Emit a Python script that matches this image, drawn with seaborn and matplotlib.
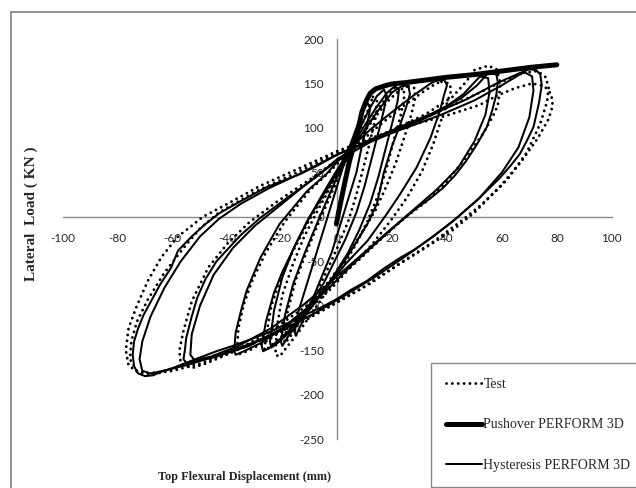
import matplotlib
matplotlib.use("Agg")
import matplotlib.pyplot as plt
import seaborn as sns
from matplotlib.lines import Line2D
from matplotlib.patches import Rectangle

# ---------------- data ----------------
x_ticks = [-100, -80, -60, -40, -20, 0, 20, 40, 60, 80, 100]
y_ticks = [-250, -200, -150, -100, -50, 0, 50, 100, 150, 200]

push_x = [-0.3, 0.5, 1.5, 3, 4.5, 6, 7.5, 9, 10.5, 12, 14, 16, 18, 20, 25, 30, 40, 50, 60, 70, 80]
push_y = [-8, 5, 20, 42, 63, 80, 97, 118, 130, 139, 144, 146, 148, 149.5, 151, 153, 157, 160, 164, 168, 171]

hyst0_x = [11, 12, 11, 9, 7, 4, 1, -2, -6, -10, -13, -15, -15.5, -14, -11, -8, -5, -2, 1, 4, 7, 9.5, 11]
hyst0_y = [128, 122, 105, 80, 50, 20, -10, -40, -70, -100, -120, -133, -130, -105, -75, -45, -15, 15, 45, 75, 100, 120, 128]

hyst1_x = [17, 18, 17, 15, 12.5, 10, 7, 3, -1, -5, -10, -14, -18, -20, -20.5, -19, -16, -12, -8, -4, 0, 4, 8, 11.5, 14.5, 17]
hyst1_y = [143, 137, 120, 95, 65, 35, 5, -25, -50, -75, -98, -118, -135, -145, -140, -110, -75, -42, -12, 17, 45, 72, 98, 120, 136, 143]

hyst2_x = [21, 22.5, 22, 20, 17.5, 15, 12, 8, 4, -1, -6, -11, -16, -21, -24, -24.5, -23, -20, -16, -11, -6, -1, 4, 9, 14, 18, 21]
hyst2_y = [147, 143, 130, 105, 75, 45, 15, -15, -40, -65, -88, -108, -126, -140, -147, -140, -105, -68, -36, -5, 22, 48, 73, 98, 122, 139, 147]

hyst3_x = [24, 26, 26.5, 25, 22.5, 20, 17, 14.5, 11, 7, 3, -2, -8, -14, -20, -25, -27, -27.5, -26, -23, -20, -15, -10, -5, 0, 5, 10, 15, 20, 24]
hyst3_y = [148, 146, 138, 122, 100, 80, 50, 15, -8, -28, -48, -70, -95, -117, -135, -148, -151, -145, -118, -85, -62, -30, 0, 25, 50, 75, 98, 120, 140, 148]

hyst4_x = [36, 39, 40, 39, 37.5, 34, 29, 23, 18, 11, 3, -4, -10, -18, -28, -34, -37, -37.5, -37, -35, -33, -28, -21, -11, -4, 0, 5, 12, 20, 28, 34, 36]
hyst4_y = [153, 154, 148, 138, 120, 89, 56, 26, 3, -27, -53, -80, -100, -122, -142, -151, -155, -150, -130, -105, -83, -46, -8, 29, 48, 62, 78, 98, 118, 137, 150, 153]

hyst5_x = [55, 58, 58.5, 58, 56.5, 54.5, 51, 47, 43, 38.7, 34, 29, 22, 14, 5, -3, -10, -20, -32, -45, -52, -55, -56, -55.5, -55, -53, -51, -48, -44, -35, -28, -18, -8, 0, 10, 22, 35, 45, 51, 55]
hyst5_y = [162, 160, 152, 138, 120, 101, 82, 63, 47, 33, 21, 10, -8, -30, -55, -80, -100, -125, -145, -158, -163, -164, -160, -150, -136, -112, -91, -70, -50, -20, -1, 22, 44, 65, 84, 100, 117, 133, 148, 162]

hyst5b_x = [52, 55, 55.5, 54, 50, 44, 36, 27, 18, 8, -2, -12, -24, -36, -46, -52, -53.5, -53, -50, -45, -38, -30, -20, -10, 0, 12, 25, 37, 46, 52]
hyst5b_y = [158, 156, 140, 115, 85, 55, 30, 6, -18, -45, -72, -98, -125, -145, -157, -161, -155, -132, -100, -65, -35, -10, 15, 40, 63, 84, 101, 118, 138, 158]

hyst6_x = [70, 72.5, 74, 74.5, 73.5, 71.5, 69, 66.6, 63, 59.3, 55, 50.8, 46.5, 42.3, 37.5, 32.6, 28, 22.9, 17, 10.8, 5, 0, -6, -13, -19, -25, -31, -38, -44, -50, -55, -60, -64, -67, -70, -72.5, -74, -74.5, -74, -72.5, -70.5, -67.5, -64.5, -60.5, -58, -53, -48, -43, -35, -26, -19.5, -13.6, -7, 0, 6, 13, 23, 35, 47, 58, 66, 70]
hyst6_y = [166, 165, 160, 148, 128, 101, 85, 71, 57, 44, 31, 18, 7, -4.5, -16, -27, -37, -46, -58, -72, -82, -92, -102, -112, -121, -130, -137, -145, -151, -158, -164, -170, -174, -178, -179, -176, -168, -155, -140, -125, -110, -93, -76, -57, -38, -22, -8, 4, 18, 33, 41, 48, 58, 70, 78, 87, 100, 116, 132, 150, 161, 166]

hyst6b_x = [68, 71, 71.5, 70, 66, 60, 52, 44, 35, 25, 14, 3, -8, -20, -32, -44, -54, -62, -68, -71, -72, -71, -68, -63, -57, -50, -43, -35, -25, -14, 0, 12, 25, 38, 50, 60, 68]
hyst6b_y = [163, 158, 142, 112, 78, 50, 22, 0, -22, -44, -67, -88, -108, -127, -143, -156, -166, -172, -176, -173, -160, -140, -112, -80, -50, -22, -2, 15, 32, 48, 70, 86, 100, 115, 131, 148, 163]

test0_x = [13, 14.5, 14, 12, 9.5, 7, 4, 0, -4, -8, -12, -16, -19, -19.5, -18, -15, -11, -7, -3, 1, 5, 8.5, 11.5, 13]
test0_y = [135, 130, 112, 85, 55, 25, -5, -35, -62, -88, -110, -130, -142, -136, -105, -70, -38, -8, 20, 48, 76, 100, 122, 135]

test1_x = [22, 24, 24.5, 23, 20.5, 18, 15, 11, 7, 2, -3, -8, -13, -18, -21, -22.5, -22, -20, -16, -12, -7, -2, 3, 8, 13, 18, 22]
test1_y = [149, 147, 136, 112, 85, 55, 25, -5, -30, -56, -80, -103, -125, -145, -157, -155, -125, -88, -52, -22, 8, 36, 62, 88, 112, 135, 149]

test2_x = [26, 28, 28.5, 27, 24.5, 21.5, 18, 14, 9, 4, -2, -8, -14, -20, -25, -26.5, -26, -24, -20.5, -16, -11, -6, -1, 4, 9, 14, 19, 23, 26]
test2_y = [147, 145, 135, 115, 90, 62, 35, 8, -18, -42, -68, -92, -115, -134, -147, -150, -135, -100, -68, -38, -8, 18, 43, 68, 92, 113, 132, 143, 147]

test3_x = [38, 41, 41.5, 40, 38, 35, 31, 25.5, 20, 13, 5, -2, -9, -17, -26, -32, -35.5, -36.5, -36, -34, -31, -26, -19, -10, -3, 2, 8, 15, 23, 31, 36, 38]
test3_y = [152, 150, 142, 128, 110, 82, 52, 22, -2, -30, -56, -80, -100, -122, -140, -150, -154, -149, -125, -98, -72, -40, -5, 30, 50, 66, 83, 102, 122, 140, 150, 152]

test4_x = [50, 55, 58, 59.5, 58.5, 56.5, 53, 47, 40, 32, 25, 17, 8, -2, -12, -25, -38, -48, -53, -57, -57.5, -56, -53, -47, -40, -32, -22, -10, 0, 10, 20, 32, 42, 47, 50]
test4_y = [165, 170, 166, 150, 125, 112, 93, 67, 40, 16, 0, -22, -48, -75, -102, -130, -152, -165, -170, -165, -150, -128, -95, -57, -30, -6, 17, 42, 64, 82, 98, 115, 135, 152, 165]

test5_x = [68, 73, 76, 77, 76.5, 74, 69, 62, 53, 45, 35, 24, 12, 0, -12, -25, -40, -55, -65, -72, -76, -77, -76, -73, -69, -64, -58, -53, -49, -41, -28, -15, 0, 12, 25, 38, 50, 60, 68]
test5_y = [162, 164, 157, 145, 130, 105, 72, 42, 15, -5, -28, -50, -75, -96, -117, -135, -152, -166, -175, -176, -167, -150, -125, -100, -72, -45, -22, -10, 0, 13, 35, 53, 74, 88, 103, 120, 137, 152, 162]

test5b_x = [58, 65, 71, 75.5, 78, 78.5, 77, 73, 67, 59, 50, 42, 32, 20, 8, -5, -20, -35, -50, -60, -68, -73, -75.5, -75, -73, -69, -63, -56, -50, -43, -30, -16, 0, 15, 28, 40, 52, 58]
test5b_y = [136, 145, 150, 147, 138, 125, 110, 88, 62, 33, 5, -15, -35, -58, -82, -104, -128, -148, -165, -173, -177, -173, -160, -140, -118, -93, -63, -35, -13, 5, 28, 48, 72, 91, 104, 114, 126, 136]

legend_labels = ["Test", "Pushover PERFORM 3D", "Hysteresis PERFORM 3D"]

# ---------------- styling ----------------
sns.set_style("white")
plt.rcParams["font.family"] = ["Lato", "DejaVu Sans"]
plt.rcParams["axes.unicode_minus"] = False

W, H = 636, 488
fig = plt.figure(figsize=(W / 100, H / 100), dpi=100)
fig.patch.set_facecolor("white")

# outer chart border (left and top visible, the rest runs off the image)
fig.add_artist(Rectangle((11 / W, -0.2), 1.5, 1.2 - 12 / H, transform=fig.transFigure,
                         fill=False, edgecolor="#8a8a8a", linewidth=1.3))

ax = fig.add_axes([62.7 / W, 1 - 439.3 / H, 549 / W, 400.3 / H])
ax.set_facecolor("none")
ax.set_xlim(-100, 100)
ax.set_ylim(-250, 200)

DOT = dict(linestyle=(0, (0.01, 2.0)), dash_capstyle="round", linewidth=2.1)
SOLID = dict(linestyle="-", linewidth=1.45)

def draw(xs, ys, style, z):
    sns.lineplot(x=xs, y=ys, sort=False, estimator=None, ax=ax, legend=False,
                 color="black", zorder=z, **style)

test_loops = [(test0_x, test0_y), (test1_x, test1_y), (test2_x, test2_y), (test3_x, test3_y),
              (test4_x, test4_y), (test5_x, test5_y), (test5b_x, test5b_y)]
hyst_loops = [(hyst0_x, hyst0_y), (hyst1_x, hyst1_y), (hyst2_x, hyst2_y), (hyst3_x, hyst3_y),
              (hyst4_x, hyst4_y), (hyst5_x, hyst5_y), (hyst5b_x, hyst5b_y),
              (hyst6_x, hyst6_y), (hyst6b_x, hyst6b_y)]

for xs, ys in test_loops:
    draw(xs, ys, DOT, 3)
for xs, ys in hyst_loops:
    draw(xs, ys, SOLID, 3.2)
sns.lineplot(x=push_x, y=push_y, sort=False, estimator=None, ax=ax, legend=False,
             color="black", linewidth=3.6, solid_capstyle="round", zorder=4)

# axes crossing at the origin
for side in ["top", "right"]:
    ax.spines[side].set_visible(False)
ax.spines["left"].set_position(("data", 0))
ax.spines["bottom"].set_position(("data", 0))
for side in ["left", "bottom"]:
    ax.spines[side].set_color("#8a8a8a")
    ax.spines[side].set_linewidth(1.0)
    ax.spines[side].set_zorder(2)

ax.set_xticks(x_ticks)
ax.set_yticks(y_ticks)
ax.set_xticklabels([str(v) for v in x_ticks])
ax.set_yticklabels([str(v) for v in y_ticks])
ax.tick_params(axis="x", direction="out", length=4, width=1, color="#8a8a8a",
               labelsize=8.5, pad=7.5, labelcolor="#262626")
ax.tick_params(axis="y", direction="out", length=4, width=1, color="#8a8a8a",
               labelsize=8.5, pad=5.5, labelcolor="#262626")
ax.set_xlabel("")
ax.set_ylabel("")
ax.grid(False)

# axis titles
fig.text(31 / W, 1 - 214 / H, "Lateral  Load ( KN )", rotation=90, ha="center", va="center",
         family=["Liberation Serif", "DejaVu Serif"], fontweight="bold", fontsize=11)
fig.text(244 / W, 1 - 477 / H, "Top Flexural Displacement (mm)", ha="center", va="center",
         family=["Liberation Serif", "DejaVu Serif"], fontweight="bold", fontsize=8.8)

# legend
handles = [Line2D([], [], color="black", **DOT),
           Line2D([], [], color="black", linewidth=3.6, solid_capstyle="round"),
           Line2D([], [], color="black", **SOLID)]
leg = fig.legend(handles, legend_labels, loc="upper left",
                 bbox_to_anchor=(431 / W, 1 - 363 / H), bbox_transform=fig.transFigure,
                 frameon=True, fancybox=False, edgecolor="#8a8a8a", framealpha=1,
                 prop={"family": "Liberation Serif", "size": 10},
                 handlelength=2.6, handletextpad=0.12, borderpad=1.05,
                 labelspacing=2.0, borderaxespad=0)
leg.get_frame().set_linewidth(1.0)

fig.savefig("out.png", dpi=100)
